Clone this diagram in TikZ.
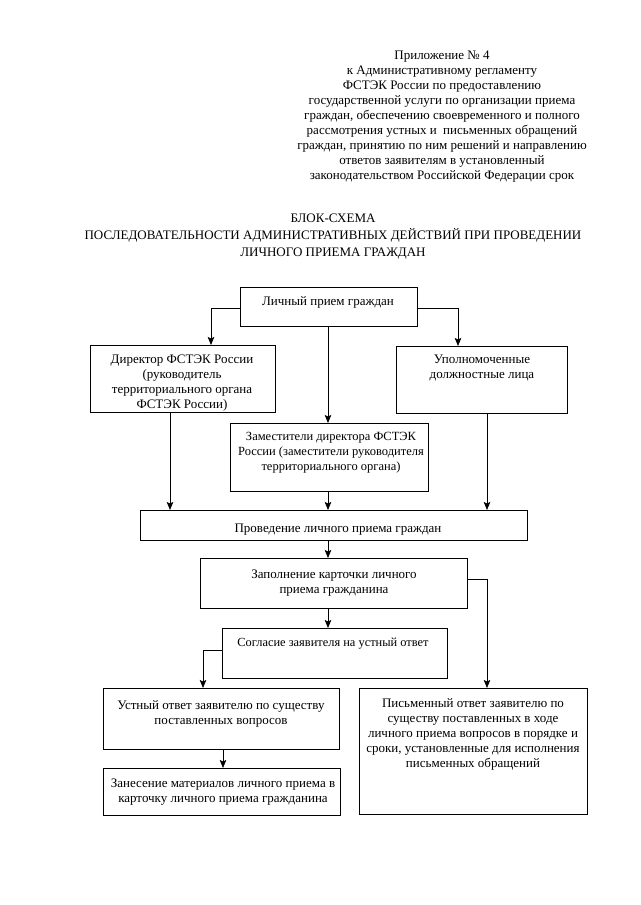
\documentclass[tikz,border=0pt]{standalone}
\usepackage{fontspec}
\setmainfont{Liberation Serif}
\usetikzlibrary{arrows.meta}
\begin{document}
\begin{tikzpicture}[x=1pt,y=-1pt,
  boxst/.style={draw, line width=0.9pt, inner sep=0pt, anchor=north west},
  lbl/.style={inner sep=0pt, anchor=north, align=center, font=\fontsize{13}{15}\selectfont},
  conn/.style={line width=0.8pt, -{Stealth[length=8pt,width=6.5pt,inset=1.5pt]}}]
\useasboundingbox (0,0) rectangle (640,905);
\fill[white] (0,0) rectangle (640,905);
% header
\node[lbl] (hdr) at (442,51) {Приложение № 4\\
к Административному регламенту\\
ФСТЭК России по предоставлению\\
государственной услуги по организации приема\\
граждан, обеспечению своевременного и полного\\
рассмотрения устных и\ \ письменных обращений\\
граждан, принятию по ним решений и направлению\\
ответов заявителям в установленный\\
законодательством Российской Федерации срок};
\node[lbl, font=\fontsize{13}{17}\selectfont] (ttl) at (333,214) {БЛОК-СХЕМА\\
ПОСЛЕДОВАТЕЛЬНОСТИ АДМИНИСТРАТИВНЫХ ДЕЙСТВИЙ ПРИ ПРОВЕДЕНИИ\\
ЛИЧНОГО ПРИЕМА ГРАЖДАН};
% boxes
\node[boxst, minimum width=177pt, minimum height=39pt] (b1) at (240,287) {};
\node[boxst, minimum width=185pt, minimum height=67pt] (dir) at (90,345) {};
\node[boxst, minimum width=171pt, minimum height=67pt] (upo) at (396,346) {};
\node[boxst, minimum width=198pt, minimum height=68pt] (zam) at (230,423) {};
\node[boxst, minimum width=387pt, minimum height=30pt] (prov) at (140,510) {};
\node[boxst, minimum width=267pt, minimum height=50pt] (zap) at (200,558) {};
\node[boxst, minimum width=225pt, minimum height=50pt] (sog) at (222,628) {};
\node[boxst, minimum width=236pt, minimum height=61pt] (ust) at (103,688) {};
\node[boxst, minimum width=237pt, minimum height=47pt] (zan) at (103,768) {};
\node[boxst, minimum width=228pt, minimum height=126pt] (pis) at (359,688) {};
% labels
\node[lbl] (tb1) at (328,296) {Личный прием граждан};
\node[lbl] (tdir) at (182,355) {Директор ФСТЭК России\\(руководитель\\территориального органа\\ФСТЭК России)};
\node[lbl] (tupo) at (482,355) {Уполномоченные\\должностные лица};
\node[lbl, font=\fontsize{12.5}{15}\selectfont] (tzam) at (331,432) {Заместители директора ФСТЭК\\России (заместители руководителя\\территориального органа)};
\node[lbl] (tprov) at (338,524) {Проведение личного приема граждан};
\node[lbl] (tzap) at (334,570) {Заполнение карточки личного\\приема гражданина};
\node[lbl, font=\fontsize{12.4}{15}\selectfont] (tsog) at (333,638) {Согласие заявителя на устный ответ};
\node[lbl] (tust) at (221,700) {Устный ответ заявителю по существу\\поставленных вопросов};
\node[lbl] (tzan) at (223,779) {Занесение материалов личного приема в\\карточку личного приема гражданина};
\node[lbl] (tpis) at (473,698) {Письменный ответ заявителю по\\существу поставленных в ходе\\личного приема вопросов в порядке и\\сроки, установленные для исполнения\\письменных обращений};
% connectors
\coordinate (c1) at (211,308);
\coordinate (c2) at (458,308);
\draw[conn] (b1.west |- c1) -| (dir.north -| c1);
\draw[conn] (b1.east |- c2) -| (upo.north -| c2);
\draw[conn] (b1.south -| 328,0) -- (zam.north -| 328,0);
\draw[conn] (dir.south -| 170,0) -- (prov.north -| 170,0);
\draw[conn] (upo.south -| 487,0) -- (prov.north -| 487,0);
\draw[conn] (zam.south -| 328,0) -- (prov.north -| 328,0);
\draw[conn] (prov.south -| 328,0) -- (zap.north -| 328,0);
\coordinate (c3) at (487,579);
\draw[conn] (zap.east |- c3) -| (pis.north -| c3);
\draw[conn] (zap.south -| 328,0) -- (sog.north -| 328,0);
\coordinate (c4) at (203,650);
\draw[conn] (sog.west |- c4) -| (ust.north -| c4);
\draw[conn] (ust.south -| 223,0) -- (zan.north -| 223,0);
\end{tikzpicture}
\end{document}
